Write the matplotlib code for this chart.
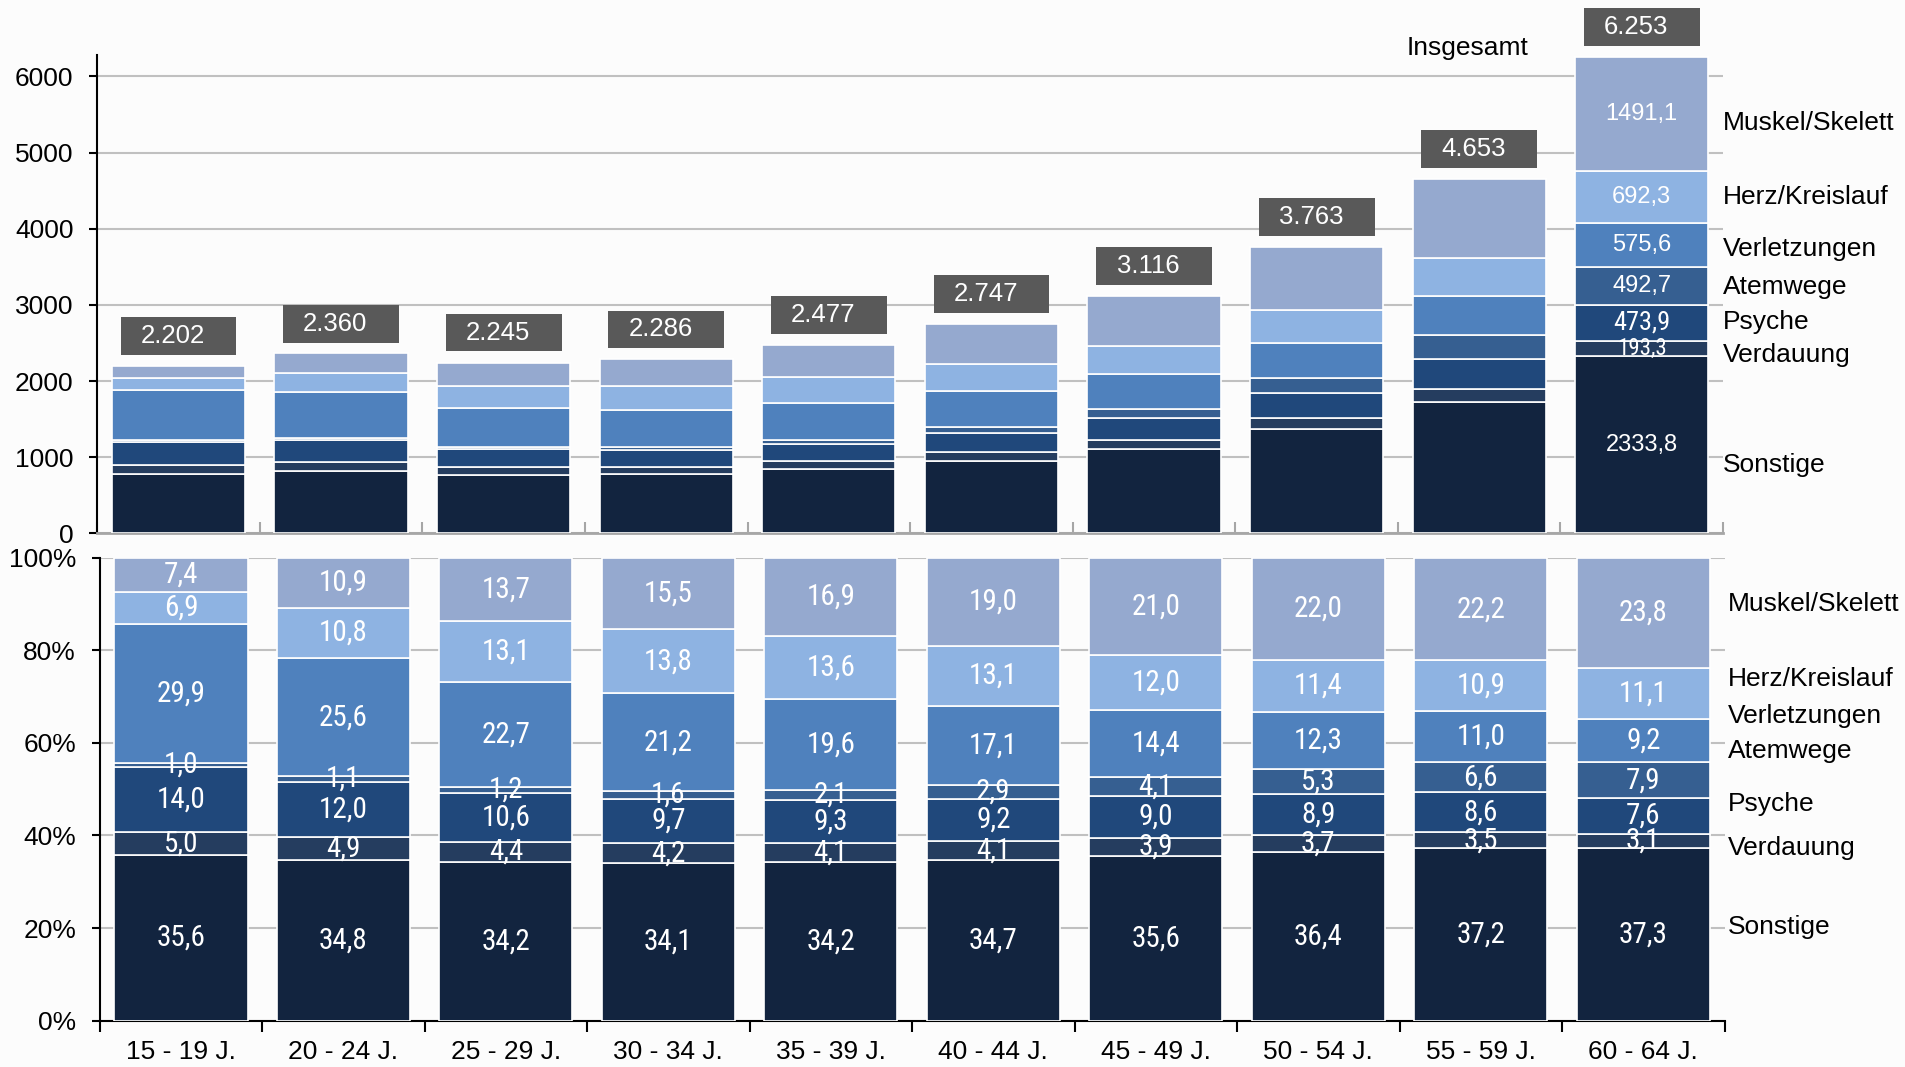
import matplotlib
matplotlib.use('Agg')
import matplotlib.pyplot as plt
from matplotlib import font_manager
from matplotlib.patches import Rectangle

plt.rcParams['font.family'] = ['Liberation Sans', 'DejaVu Sans']

# narrow face for the numbers inside the bars
installed = set(f.name for f in font_manager.fontManager.ttflist)
narrow = 'Liberation Sans'
for cand in ['Liberation Sans Narrow', 'Roboto Condensed', 'Archivo Narrow', 'PT Sans Narrow']:
    if cand in installed:
        narrow = cand
        break

# %% data
age_groups = ['15 - 19 J.', '20 - 24 J.', '25 - 29 J.', '30 - 34 J.', '35 - 39 J.',
              '40 - 44 J.', '45 - 49 J.', '50 - 54 J.', '55 - 59 J.', '60 - 64 J.']
categories = ['Sonstige', 'Verdauung', 'Psyche', 'Atemwege',
              'Verletzungen', 'Herz/Kreislauf', 'Muskel/Skelett']
colors = ['#12243f', '#253d5f', '#20487b', '#365f91', '#4f81bd', '#8eb3e2', '#95a9cf']

totals = [2202, 2360, 2245, 2286, 2477, 2747, 3116, 3763, 4653, 6253]
total_labels = ['2.202', '2.360', '2.245', '2.286', '2.477',
                '2.747', '3.116', '3.763', '4.653', '6.253']

# absolute values (top chart)
sonstige_abs = [783.9, 821.3, 767.8, 779.5, 847.1, 953.2, 1109.3, 1369.7, 1730.9, 2333.8]
verdauung_abs = [110.1, 115.6, 98.8, 96.0, 101.6, 112.6, 121.5, 139.2, 162.9, 193.3]
psyche_abs = [308.3, 283.2, 238.0, 221.7, 230.4, 252.7, 280.4, 334.9, 400.2, 473.9]
atemwege_abs = [22.0, 26.0, 26.9, 36.6, 52.0, 79.7, 127.8, 199.4, 307.1, 492.7]
verletzungen_abs = [658.4, 604.2, 509.6, 484.6, 485.5, 469.7, 448.7, 462.8, 511.8, 575.6]
herz_abs = [151.9, 254.9, 294.1, 315.5, 336.9, 359.9, 373.9, 429.0, 507.2, 692.3]
muskel_abs = [162.9, 257.2, 307.6, 354.3, 418.6, 521.9, 654.4, 827.9, 1033.0, 1491.1]

# shares in percent (bottom chart)
sonstige_pct = [35.6, 34.8, 34.2, 34.1, 34.2, 34.7, 35.6, 36.4, 37.2, 37.3]
verdauung_pct = [5.0, 4.9, 4.4, 4.2, 4.1, 4.1, 3.9, 3.7, 3.5, 3.1]
psyche_pct = [14.0, 12.0, 10.6, 9.7, 9.3, 9.2, 9.0, 8.9, 8.6, 7.6]
atemwege_pct = [1.0, 1.1, 1.2, 1.6, 2.1, 2.9, 4.1, 5.3, 6.6, 7.9]
verletzungen_pct = [29.9, 25.6, 22.7, 21.2, 19.6, 17.1, 14.4, 12.3, 11.0, 9.2]
herz_pct = [6.9, 10.8, 13.1, 13.8, 13.6, 13.1, 12.0, 11.4, 10.9, 11.1]
muskel_pct = [7.4, 10.9, 13.7, 15.5, 16.9, 19.0, 21.0, 22.0, 22.2, 23.8]

abs_series = [sonstige_abs, verdauung_abs, psyche_abs, atemwege_abs,
              verletzungen_abs, herz_abs, muskel_abs]
pct_series = [sonstige_pct, verdauung_pct, psyche_pct, atemwege_pct,
              verletzungen_pct, herz_pct, muskel_pct]

# %% figure
fig = plt.figure(figsize=(19.05, 10.67), dpi=100, facecolor='#fcfcfc')
ax1 = fig.add_axes([0.051, 0.5001, 0.8535, 0.4484])
ax2 = fig.add_axes([0.0523, 0.0435, 0.853, 0.4338])
for ax in (ax1, ax2):
    ax.set_facecolor('#fcfcfc')

x = list(range(len(age_groups)))
w = 0.82
fs = 19

# ---- top: absolute numbers
bottom = [0.0] * len(x)
for vals, col in zip(abs_series, colors):
    ax1.bar(x, vals, w, bottom=bottom, color=col, edgecolor='white', linewidth=1.2, zorder=3)
    bottom = [b + v for b, v in zip(bottom, vals)]

ax1.set_xlim(-0.5, 9.5)
ax1.set_ylim(0, 6282)
ax1.set_yticks([0, 1000, 2000, 3000, 4000, 5000, 6000])
ax1.grid(axis='y', color='#c0c0c0', linewidth=1.5, zorder=0)
ax1.set_axisbelow(True)
ax1.set_xticks(x)
ax1.set_xticklabels([])
ax1.set_xticks([i + 0.5 for i in range(-1, 10)], minor=True)
ax1.tick_params(axis='x', which='major', length=0)
ax1.tick_params(axis='x', which='minor', direction='in', length=8, width=1.5, color='#a6a6a6')
ax1.tick_params(axis='y', labelsize=fs, length=6, width=1.5, pad=11)
for s in ('top', 'right'):
    ax1.spines[s].set_visible(False)
ax1.spines['bottom'].set_color('#a6a6a6')
ax1.spines['bottom'].set_linewidth(2)
ax1.spines['left'].set_linewidth(1.5)

# total boxes
for i, (t, lab) in enumerate(zip(totals, total_labels)):
    ax1.add_patch(Rectangle((i - 0.356, t + 145), 0.713, 495, facecolor='#595959',
                            edgecolor='none', clip_on=False, zorder=5))
    ax1.text(i - 0.035, t + 145 + 247, lab, color='white', fontsize=18.5,
             ha='center', va='center', zorder=6, clip_on=False)

ax1.text(7.93, 6367, 'Insgesamt', fontsize=fs, ha='center', va='center', clip_on=False)

# labels in the last bar
last = len(x) - 1
base = 0.0
top_fonts = [(17, 'Liberation Sans'), (16.5, narrow), (19, narrow), (17, 'Liberation Sans'),
             (17, 'Liberation Sans'), (17, 'Liberation Sans'), (17, 'Liberation Sans')]
for vals, (size, fam) in zip(abs_series, top_fonts):
    v = vals[last]
    ax1.text(last, base + v / 2, f'{v:.1f}'.replace('.', ','), color='white',
             fontsize=size, family=fam, ha='center', va='center', zorder=6)
    base += v

top_label_y = [894, 2346, 2777, 3239, 3734, 4420, 5393]
for cat, yy in zip(categories, top_label_y):
    ax1.text(9.5, yy, cat, fontsize=fs, ha='left', va='center', clip_on=False)

# ---- bottom: shares
bottom = [0.0] * len(x)
sums = [sum(p[i] for p in pct_series) for i in x]
for vals, col in zip(pct_series, colors):
    h = [v / s * 100 for v, s in zip(vals, sums)]
    ax2.bar(x, h, w, bottom=bottom, color=col, edgecolor='white', linewidth=1.2, zorder=3)
    for i in x:
        ax2.text(i, bottom[i] + h[i] / 2, f'{vals[i]:.1f}'.replace('.', ','),
                 color='white', fontsize=21, family=narrow, ha='center', va='center', zorder=6)
    bottom = [b + v for b, v in zip(bottom, h)]

ax2.set_xlim(-0.5, 9.5)
ax2.set_ylim(0, 100)
ax2.set_yticks([0, 20, 40, 60, 80, 100])
ax2.set_yticklabels(['0%', '20%', '40%', '60%', '80%', '100%'])
ax2.grid(axis='y', color='#c0c0c0', linewidth=1.5, zorder=0)
ax2.set_axisbelow(True)
ax2.set_xticks(x)
ax2.set_xticklabels(age_groups)
ax2.set_xticks([i + 0.5 for i in range(-1, 10)], minor=True)
ax2.tick_params(axis='x', which='major', length=0, labelsize=fs, pad=14)
ax2.tick_params(axis='x', which='minor', direction='out', length=8, width=1.5)
ax2.tick_params(axis='y', labelsize=fs, length=6, width=1.5, pad=11)
for s in ('top', 'right'):
    ax2.spines[s].set_visible(False)
ax2.spines['bottom'].set_linewidth(1.5)
ax2.spines['left'].set_linewidth(1.5)

bottom_label_y = [20.2, 37.3, 46.7, 58.3, 65.9, 73.8, 90.0]
for cat, yy in zip(categories, bottom_label_y):
    ax2.text(9.52, yy, cat, fontsize=fs, ha='left', va='center', clip_on=False)

fig.savefig('out.png', dpi=100, facecolor=fig.get_facecolor())
